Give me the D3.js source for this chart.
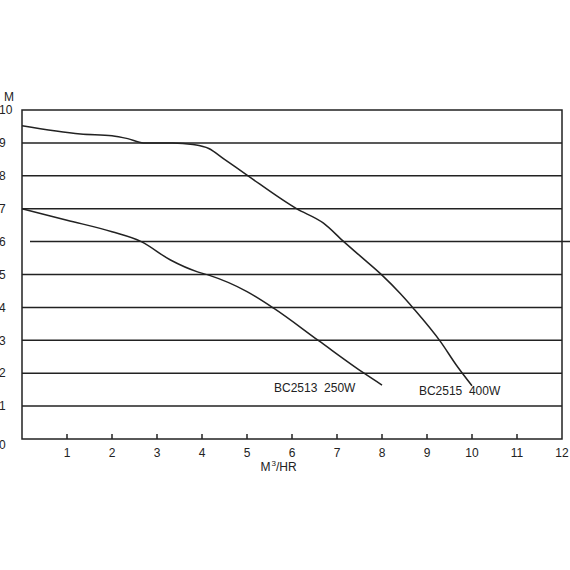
<!DOCTYPE html>
<html>
<head>
<meta charset="utf-8">
<script src="https://cdn.jsdelivr.net/npm/d3@7"></script>
<style>
  body { margin: 0; background: #fff; }
  text { font-family: Arial, "Liberation Sans", sans-serif; fill: #222; }
</style>
</head>
<body>
<div id="my_dataviz"></div>
<script>
// flow (M3/HR) and head (M)
const bc2515X = [0, 1.3, 2, 2.35, 2.7, 3.35, 3.8, 4.15, 4.5, 5, 6.1, 6.7, 7.15, 7.5, 8, 8.4, 8.7, 9.3, 9.65, 10];
const bc2515Y = [9.52, 9.27, 9.22, 9.13, 9.0, 9.0, 8.95, 8.83, 8.5, 8.02, 7.0, 6.56, 6.0, 5.58, 4.98, 4.43, 3.97, 2.96, 2.25, 1.62];
const bc2513X = [0, 1, 2, 2.65, 3.3, 3.9, 4.15, 5, 5.6, 6.6, 7.6, 8];
const bc2513Y = [7.0, 6.65, 6.3, 6.0, 5.44, 5.08, 4.98, 4.48, 3.97, 2.98, 2.0, 1.64];
const seriesNames = ["BC2515  400W", "BC2513  250W"];
const xTicks = [1, 2, 3, 4, 5, 6, 7, 8, 9, 10, 11, 12];
const yTicks = [0, 1, 2, 3, 4, 5, 6, 7, 8, 9, 10];

var margin = {top: 110, right: 8, bottom: 131, left: 22},
    width = 570 - margin.left - margin.right,
    height = 570 - margin.top - margin.bottom;

document.addEventListener('DOMContentLoaded', function () {
  var svg = d3.select("#my_dataviz")
    .append("svg")
      .attr("width", 570)
      .attr("height", 570)
    .append("g")
      .attr("transform", `translate(${margin.left}, ${margin.top})`);

  const x = d3.scaleLinear().domain([0, 12]).range([0, width]);
  const y = d3.scaleLinear().domain([0, 10]).range([height, 0]);

  const ink = "#222";

  // horizontal grid lines (the 6 line is shifted right in the original)
  svg.selectAll("gridline")
    .data(yTicks.filter(d => d > 0 && d < 10))
    .join("line")
      .attr("x1", d => d === 6 ? 8 : 0)
      .attr("x2", d => d === 6 ? width + 8 : width)
      .attr("y1", d => y(d))
      .attr("y2", d => y(d))
      .attr("stroke", ink)
      .attr("stroke-width", 1.5);

  // frame
  svg.append("rect")
    .attr("x", 0).attr("y", 0)
    .attr("width", width).attr("height", height)
    .attr("fill", "none")
    .attr("stroke", ink)
    .attr("stroke-width", 1.5);

  // x ticks + labels
  svg.selectAll("xtick")
    .data(xTicks.filter(d => d < 12))
    .join("line")
      .attr("x1", d => x(d)).attr("x2", d => x(d))
      .attr("y1", height).attr("y2", height - 5)
      .attr("stroke", ink)
      .attr("stroke-width", 1.5);

  svg.selectAll("xlabel")
    .data(xTicks)
    .join("text")
      .attr("x", d => x(d))
      .attr("y", height + 18)
      .attr("text-anchor", "middle")
      .style("font-size", "12px")
      .text(d => d);

  // y labels sit at the left edge of the page
  svg.selectAll("ylabel")
    .data(yTicks)
    .join("text")
      .attr("x", -margin.left - 1)
      .attr("y", d => y(d) + (d === 0 ? 6 : 0))
      .attr("dy", "0.35em")
      .style("font-size", "12px")
      .text(d => d);

  svg.append("text")
    .attr("x", -margin.left + 4)
    .attr("y", -9)
    .style("font-size", "12px")
    .text("M");

  // x axis title with superscript
  const xt = svg.append("text")
    .attr("x", x(5.3))
    .attr("y", height + 32)
    .style("font-size", "12px");
  xt.append("tspan").text("M");
  xt.append("tspan").attr("dy", -5).attr("dx", 1).style("font-size", "8px").text("3");
  xt.append("tspan").attr("dy", 5).text("/HR");

  const line = d3.line()
    .x(d => x(d[0]))
    .y(d => y(d[1]))
    .curve(d3.curveMonotoneX);

  const curves = [
    d3.zip(bc2515X, bc2515Y),
    d3.zip(bc2513X, bc2513Y)
  ];

  svg.selectAll("curves")
    .data(curves)
    .join("path")
      .attr("d", line)
      .attr("fill", "none")
      .attr("stroke", ink)
      .attr("stroke-width", 1.5);

  // series labels
  svg.append("text")
    .attr("x", x(8.82)).attr("y", y(1.35))
    .style("font-size", "12px")
    .style("white-space", "pre")
    .text(seriesNames[0]);

  svg.append("text")
    .attr("x", x(5.6)).attr("y", y(1.43))
    .style("font-size", "12px")
    .style("white-space", "pre")
    .text(seriesNames[1]);
});
</script>
</body>
</html>
